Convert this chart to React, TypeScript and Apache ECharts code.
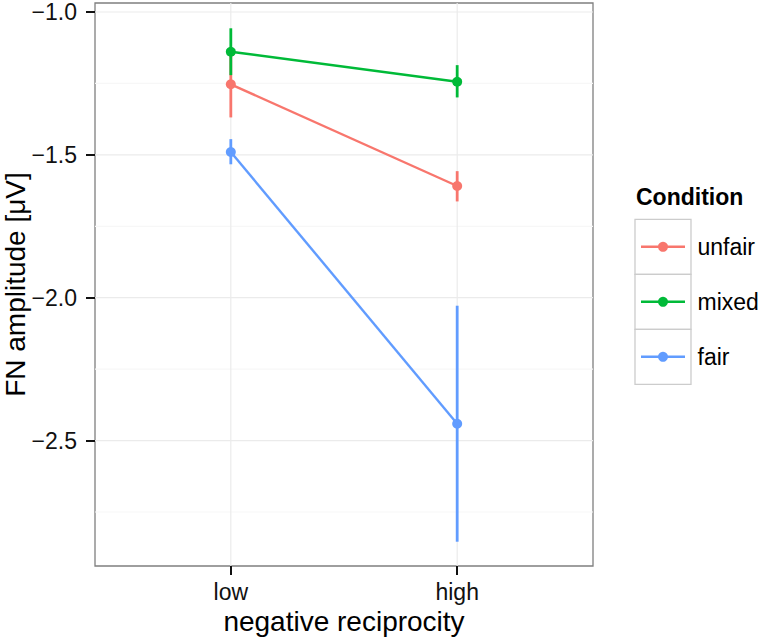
import React, { useEffect, useRef } from "react";
import * as echarts from "echarts";

const categories = ["low", "high"];
const conditions = ["unfair", "mixed", "fair"];
const colors = ["#F8766D", "#00BA38", "#619CFF"];
const meanUnfair = [-1.253, -1.609];
const meanMixed = [-1.139, -1.244];
const meanFair = [-1.49, -2.441];
const lowerUnfair = [-1.369, -1.663];
const upperUnfair = [-1.137, -1.557];
const lowerMixed = [-1.221, -1.299];
const upperMixed = [-1.057, -1.186];
const lowerFair = [-1.533, -2.854];
const upperFair = [-1.445, -2.028];
const yTicks = [-2.5, -2.0, -1.5, -1.0];
const yMinorGrid = [-2.75, -2.25, -1.75, -1.25];
const yTitle = "FN amplitude [μV]";
const xTitle = "negative reciprocity";
const legendTitle = "Condition";

const FONT = "'Liberation Sans', Arial, Helvetica, sans-serif";

export default function App() {
  const ref = useRef<HTMLDivElement>(null);
  useEffect(() => {
    if (!ref.current) return;
    const chart = echarts.init(ref.current, null, { renderer: "svg" });
    const means = [meanUnfair, meanMixed, meanFair];
    const lowers = [lowerUnfair, lowerMixed, lowerFair];
    const uppers = [upperUnfair, upperMixed, upperFair];
    const xPos = categories.map((_, i) => i + 1);
    const xMin = 0.4;
    const xMax = 2.6;

    const gridSeries = {
      type: "custom",
      silent: true,
      z: 0,
      data: [
        ...yMinorGrid.map((v) => ["h", v, 0]),
        ...yTicks.map((v) => ["h", v, 1]),
        ...xPos.map((v) => ["v", v, 1]),
      ],
      encode: { x: 1, y: 1 },
      renderItem: (params: any, api: any) => {
        const kind = api.value(0);
        const v = api.value(1);
        const major = api.value(2) === 1;
        const cs = params.coordSys;
        let shape;
        if (kind === "h") {
          const y = api.coord([1, v])[1];
          shape = { x1: cs.x, y1: y, x2: cs.x + cs.width, y2: y };
        } else {
          const x = api.coord([v, -2])[0];
          shape = { x1: x, y1: cs.y, x2: x, y2: cs.y + cs.height };
        }
        return {
          type: "line",
          shape,
          style: { stroke: major ? "#ebebeb" : "#f7f7f7", lineWidth: 1.2 },
        };
      },
    };

    const series: any[] = [gridSeries];
    conditions.forEach((name, ci) => {
      series.push({
        type: "custom",
        name: name + "-err",
        z: 2,
        silent: true,
        data: xPos.map((x, i) => [x, lowers[ci][i], uppers[ci][i]]),
        encode: { x: 0, y: [1, 2] },
        renderItem: (params: any, api: any) => {
          const p1 = api.coord([api.value(0), api.value(1)]);
          const p2 = api.coord([api.value(0), api.value(2)]);
          return {
            type: "line",
            shape: { x1: p1[0], y1: p1[1], x2: p2[0], y2: p2[1] },
            style: { stroke: colors[ci], lineWidth: 2.8 },
          };
        },
      });
      series.push({
        type: "line",
        name,
        z: 3,
        data: xPos.map((x, i) => [x, means[ci][i]]),
        symbol: "circle",
        symbolSize: 10,
        showSymbol: true,
        lineStyle: { color: colors[ci], width: 2.4 },
        itemStyle: { color: colors[ci] },
      });
    });

    const keyX = 635;
    const keyY = 219.3;
    const keyW = 56;
    const keyH = 55;
    const graphics: any[] = [
      {
        type: "text",
        x: 15,
        y: 284.5,
        rotation: Math.PI / 2,
        style: {
          text: yTitle,
          font: `28px ${FONT}`,
          fill: "#000",
          align: "center",
          verticalAlign: "middle",
        },
      },
      {
        type: "text",
        left: 636,
        top: 185,
        style: {
          text: legendTitle,
          font: `bold 23px ${FONT}`,
          fill: "#000",
        },
      },
    ];
    conditions.forEach((name, i) => {
      const cy = keyY + i * keyH + keyH / 2;
      graphics.push({
        type: "rect",
        shape: { x: keyX, y: keyY + i * keyH, width: keyW, height: keyH },
        style: { fill: "#fff", stroke: "#cccccc", lineWidth: 1.3 },
      });
      graphics.push({
        type: "line",
        shape: { x1: keyX + 6, y1: cy, x2: keyX + keyW - 6, y2: cy },
        style: { stroke: colors[i], lineWidth: 2.4 },
      });
      graphics.push({
        type: "circle",
        shape: { cx: keyX + keyW / 2, cy, r: 5 },
        style: { fill: colors[i] },
      });
      graphics.push({
        type: "text",
        x: 697.5,
        y: cy,
        style: {
          text: name,
          font: `23px ${FONT}`,
          fill: "#000",
          verticalAlign: "middle",
        },
      });
    });

    chart.setOption({
      animation: false,
      backgroundColor: "#fff",
      textStyle: { fontFamily: FONT },
      grid: {
        left: 95,
        top: 3,
        width: 498,
        height: 563,
        show: true,
        borderColor: "#7f7f7f",
        borderWidth: 1.3,
        backgroundColor: "#fff",
        containLabel: false,
        outerBoundsMode: "none",
      },
      xAxis: {
        type: "value",
        min: xMin,
        max: xMax,
        name: xTitle,
        nameLocation: "middle",
        nameGap: 40,
        nameTextStyle: { fontSize: 28, color: "#000", fontFamily: FONT },
        axisLine: { show: false },
        splitLine: { show: false },
        axisTick: {
          show: true,
          customValues: xPos,
          length: 9,
          lineStyle: { color: "#111", width: 2 },
        },
        axisLabel: {
          customValues: xPos,
          formatter: (v: number) => categories[Math.round(v) - 1] ?? "",
          fontSize: 23,
          color: "#111",
          margin: 14,
          fontFamily: FONT,
        },
      },
      yAxis: {
        type: "value",
        min: -2.939,
        max: -0.9685,
        axisLine: { show: false },
        splitLine: { show: false },
        axisTick: {
          show: true,
          customValues: yTicks,
          length: 9,
          lineStyle: { color: "#111", width: 2 },
        },
        axisLabel: {
          customValues: yTicks,
          formatter: (v: number) => v.toFixed(1).replace("-", "\u2212"),
          fontSize: 23,
          color: "#111",
          margin: 18,
          fontFamily: FONT,
        },
      },
      series,
      graphic: graphics,
    });
    return () => chart.dispose();
  }, []);
  return (
    <div
      ref={ref}
      style={{ position: "fixed", left: 0, top: 0, width: 760, height: 638 }}
    />
  );
}
